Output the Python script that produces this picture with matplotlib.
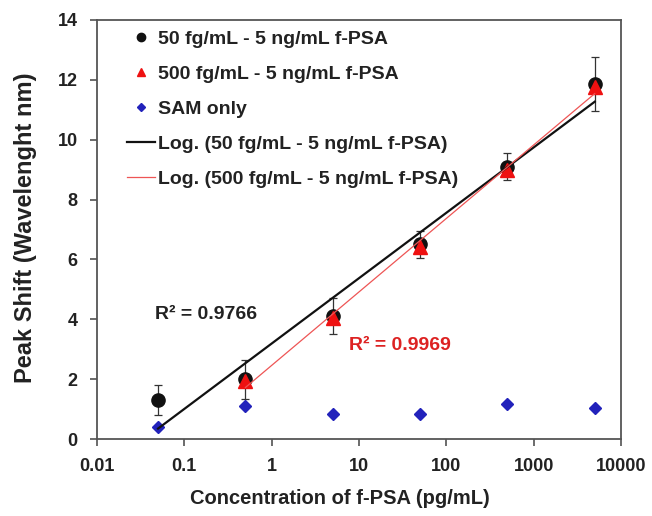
import numpy as np
import matplotlib
matplotlib.use("Agg")
import matplotlib.pyplot as plt
from matplotlib.lines import Line2D
from matplotlib.ticker import FixedLocator, FixedFormatter, NullLocator

plt.rcParams['font.family'] = ['Liberation Sans', 'DejaVu Sans']
plt.rcParams['font.weight'] = 'bold'

# concentrations (pg/mL)
conc_all = [0.05, 0.5, 5, 50, 500, 5000]
conc_red = [0.5, 5, 50, 500, 5000]

# peak shift values (nm)
shift_50fg = [1.3, 2.0, 4.1, 6.5, 9.1, 11.85]
err_50fg = [0.5, 0.65, 0.6, 0.45, 0.45, 0.9]
shift_500fg = [1.95, 4.05, 6.4, 9.0, 11.75]
shift_sam = [0.4, 1.1, 0.82, 0.82, 1.18, 1.03]

x_ticks = [0.01, 0.1, 1, 10, 100, 1000, 10000]
x_tick_labels = ['0.01', '0.1', '1', '10', '100', '1000', '10000']
y_ticks = [0, 2, 4, 6, 8, 10, 12, 14]

r2_black = 'R² = 0.9766'
r2_red = 'R² = 0.9969'

TXT = '#222222'
BLACK = '#111111'
RED = '#ee1111'
BLUE = '#2222bb'


def log_fit(x, y):
    # Excel style logarithmic trendline: y = a*ln(x) + b
    a, b = np.polyfit(np.log(x), y, 1)
    xs = np.array([min(x), max(x)])
    return xs, a * np.log(xs) + b


fig = plt.figure(figsize=(6.52, 5.16), dpi=100)
ax = fig.add_axes([97 / 652, 1 - 439 / 516, 524 / 652, 419 / 516])

ax.errorbar(conc_all, shift_50fg, yerr=err_50fg, fmt='o', color=BLACK,
            ecolor='#333333', elinewidth=0.9, capsize=3, capthick=0.9,
            markersize=9.5, zorder=3)
ax.plot(conc_red, shift_500fg, '^', color=RED, markersize=9.5, zorder=4)
ax.plot(conc_all, shift_sam, 'D', color=BLUE, markersize=6.5, zorder=4)

fx, fy = log_fit(conc_all, shift_50fg)
ax.plot(fx, fy, color=BLACK, lw=1.6, zorder=5)
fx, fy = log_fit(conc_red, shift_500fg)
ax.plot(fx, fy, color='#ee5555', lw=0.9, zorder=5)

ax.text(0.046, 4.15, r2_black, fontsize=14, fontweight='bold', color=TXT,
        va='center')
ax.text(7.6, 3.12, r2_red, fontsize=14, fontweight='bold', color='#dd2222',
        va='center')

ax.set_xscale('log')
ax.set_xlim(0.01, 10000)
ax.set_ylim(0, 14)
ax.xaxis.set_major_locator(FixedLocator(x_ticks))
ax.xaxis.set_major_formatter(FixedFormatter(x_tick_labels))
ax.xaxis.set_minor_locator(NullLocator())
ax.set_yticks(y_ticks)
ax.tick_params(direction='out', length=5, width=1.1, labelsize=13, pad=9,
               color='#444444')
for lab in ax.get_xticklabels() + ax.get_yticklabels():
    lab.set_fontweight('bold')
    lab.set_color(TXT)
for sp in ax.spines.values():
    sp.set_linewidth(1.3)
    sp.set_color('#555555')

ax.set_xlabel('Concentration of f-PSA (pg/mL)', fontsize=14.5,
              fontweight='bold', color=TXT)
ax.xaxis.set_label_coords((340 - 97) / 524, -50 / 419)
ax.set_ylabel('Peak Shift (Wavelenght nm)', fontsize=17,
              fontweight='bold', color=TXT)
ax.yaxis.set_label_coords(-60 / 524, (439 - 228) / 419)

# legend handles (marker only for the data series)
handles = [
    Line2D([], [], ls='none', marker='o', color=BLACK, markersize=6),
    Line2D([], [], ls='none', marker='^', color=RED, markersize=6),
    Line2D([], [], ls='none', marker='D', color=BLUE, markersize=4.5),
    Line2D([], [], color=BLACK, lw=1.6),
    Line2D([], [], color='#ee5555', lw=0.9),
]
labels = [
    '50 fg/mL - 5 ng/mL f-PSA',
    '500 fg/mL - 5 ng/mL f-PSA',
    'SAM only',
    'Log. (50 fg/mL - 5 ng/mL f-PSA)',
    'Log. (500 fg/mL - 5 ng/mL f-PSA)',
]
leg = ax.legend(handles, labels, loc='upper left', frameon=False,
                fontsize=14, handlelength=1.45, handletextpad=0.15,
                labelspacing=0.9, borderpad=0, borderaxespad=0,
                bbox_to_anchor=(30 / 524, 1 - 10 / 419))
for t in leg.get_texts():
    t.set_fontweight('bold')
    t.set_color(TXT)

fig.savefig('out.png', dpi=100)
